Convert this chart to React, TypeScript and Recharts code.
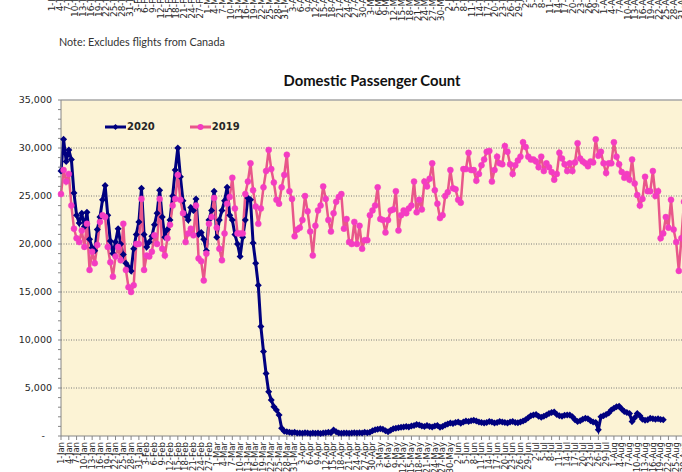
import { LineChart, Line, XAxis, YAxis, CartesianGrid, ReferenceLine, Legend } from 'recharts';

// axis categories: daily dates from 1-Jan (2020 calendar)
const monthNames = ['Jan', 'Feb', 'Mar', 'Apr', 'May', 'Jun', 'Jul', 'Aug'];
const monthLengths = [31, 29, 31, 30, 31, 30, 31, 31];
const dayLabels: string[] = [];
monthNames.forEach((m, i) => {
  for (let d = 1; d <= monthLengths[i]; d++) dayLabels.push(`${d}-${m}`);
});
const categories = dayLabels.slice(0, 241);

const yTicks = Array.from({ length: 36 }, (_, i) => i * 1000);
const gridValues = [5000, 10000, 15000, 20000, 25000, 30000];

// daily domestic passengers, 2020 (stops mid-August)
const pax2020 = [
  27600, 30900, 28600, 29800, 28800, 25300, 23000, 22200, 23200, 21800,
  23300, 20500, 19600, 19300, 21500, 22800, 24600, 26100, 23000, 20300,
  19000, 20200, 21600, 20000, 18900, 18000, 17600, 17200, 19500, 21000,
  22300, 25800, 21000, 19700, 20200, 20800, 22000, 23200, 25600, 22800,
  20700, 21500, 22500, 25000, 27700, 30000, 27000, 24500, 23000, 22500,
  23800, 23500, 24700, 21000, 21200, 20500, 19300, 22500, 23500, 25500,
  20700, 22500, 23500, 24500, 25900, 23000, 22500, 21000, 20000, 18700,
  20700, 22500, 24800, 24600, 20100, 18000, 15700, 11400, 8800, 6500,
  4600, 3750, 3050, 2700, 2200, 800, 500, 450, 400, 350,
  380, 300, 320, 280, 350, 300, 250, 300, 280, 320,
  250, 300, 350, 400, 350, 620, 450, 300, 280, 300,
  320, 280, 300, 330, 300, 350, 320, 380, 350, 400,
  550, 650, 700, 750, 700, 550, 450, 600, 750, 800,
  850, 900, 950, 1000, 950, 1050, 1100, 1200, 1150, 1050,
  1000, 1100, 1000, 950, 1050, 1100, 900, 1000, 1150, 1250,
  1350, 1300, 1400, 1450, 1320, 1450, 1550, 1500, 1600, 1650,
  1550, 1450, 1400, 1350, 1400, 1500, 1450, 1350, 1400, 1500,
  1450, 1400, 1350, 1450, 1500, 1400, 1380, 1450, 1550, 1700,
  1900, 2100, 2200, 2250, 2050, 1950, 2050, 2200, 2350, 2450,
  2500, 2250, 2100, 2050, 2150, 2200, 2200, 2000, 1700, 1500,
  1600, 1750, 1850, 1800, 1600, 1450, 1400, 650, 2000, 2100,
  2250, 2400, 2700, 2900, 3050, 3100, 2800, 2550, 2450, 2350,
  1500, 1900, 2350, 2100, 1750, 1650, 1700, 1850, 1800, 1750,
  1800, 1720, 1700,
];

// daily domestic passengers, 2019 (same day of year)
const pax2019 = [
  25200, 27700, 26500, 27300, 24000, 21600, 20600, 20200, 21400, 19700,
  22100, 17300, 19200, 18000, 19900, 22300, 23000, 22800, 19700, 18100,
  16600, 18700, 19700, 18300, 22100, 17300, 15500, 15000, 15700, 20000,
  20000, 24700, 17300, 18800, 18700, 19200, 20900, 20000, 24700, 19500,
  18800, 20600, 22000, 24000, 24700, 27200, 24600, 23200, 20200, 21100,
  21600, 20900, 24000, 18500, 18200, 16200, 19000, 22100, 22800, 24800,
  21700, 19500, 18300, 21100, 24200, 24900, 26900, 23700, 21100, 21100,
  21100, 25200, 26500, 28400, 25600, 23900, 22100, 23700, 25900, 27600,
  29800, 27800, 26400, 24600, 24200, 25900, 27200, 29300, 25500, 24700,
  20800, 21500, 21700, 22500, 25000, 23400, 21300, 18800, 21900, 23500,
  24000, 26000, 24700, 22500, 21300, 23200, 24400, 24900, 25200, 21600,
  22600, 20200, 20000, 22300, 20000, 21900, 19500, 20400, 20400, 23000,
  23500, 24000, 25900, 22600, 22500, 21200, 22500, 23500, 23600, 25500,
  21400, 23000, 23500, 23200, 23700, 24000, 26500, 23300, 24600, 23600,
  26500, 26000, 26800, 28400, 25600, 24200, 22700, 23000, 25000, 25400,
  27700, 25800, 25700, 24600, 24300, 27800, 27800, 29500, 27700, 27700,
  26600, 27300, 28200, 28800, 29600, 29700, 26500, 27700, 29100, 28400,
  28300, 30200, 29600, 28300, 27300, 28200, 28700, 29100, 30600, 30100,
  29100, 28800, 28800, 28600, 28000, 29100, 27600, 28400, 28000, 27500,
  26700, 27300, 29500, 28900, 28300, 27600, 28400, 27600, 28500, 30500,
  28900, 28600, 28400, 28100, 28600, 28500, 30900, 29200, 29600, 28400,
  27400, 28400, 28400, 30600, 29100, 28300, 27500, 26900, 27300, 26700,
  28800, 26300, 25100, 24000, 24700, 27000, 25500, 25500, 27600, 25000,
  25500, 20600, 21100, 22800, 21700, 24600, 21500, 20200, 17200, 20600,
  24400,
];

const NAVY = '#00007F';
const PINK_LINE = '#E8578A';
const PINK_DOT = '#F43CC2';
const TEXT = '#262626';

const data = categories.map((date, i) => ({
  date,
  y2020: pax2020[i] ?? null,
  y2019: pax2019[i] ?? null,
}));
const stripData = dayLabels.map((date) => ({ date }));

const fmt = (v: number) => v.toLocaleString('en-US');

const YTick = ({ x, y, payload }: any) => {
  const v = payload.value as number;
  if (v % 5000 !== 0) return <g />;
  return (
    <text
      x={v === 0 ? x - 7 : x}
      y={y}
      dy="0.35em"
      textAnchor="end"
      fontFamily="DejaVu Sans, sans-serif"
      fontSize={9.5}
      fill={TEXT}
    >
      {v === 0 ? '-' : fmt(v)}
    </text>
  );
};

const makeXTick = (size: number) => ({ x, y, payload }: any) => (
  <text
    x={x}
    y={y}
    dy="0.33em"
    transform={`rotate(-90 ${x} ${y})`}
    textAnchor="end"
    fontFamily="DejaVu Sans, sans-serif"
    fontSize={size}
    fill={TEXT}
  >
    {payload.value}
  </text>
);
const XTick = makeXTick(8.5);
const StripTick = makeXTick(9);

const Diamond = (props: any) => {
  const { cx, cy, index } = props;
  if (cx == null || cy == null || props.value == null) return <g key={`n-${index}`} />;
  return (
    <path
      key={`d-${index}`}
      d={`M${cx},${cy - 3.5}L${cx + 3.5},${cy}L${cx},${cy + 3.5}L${cx - 3.5},${cy}Z`}
      fill={NAVY}
    />
  );
};

const LegendBox = () => (
  <div
    style={{
      display: 'flex',
      alignItems: 'center',
      fontFamily: 'DejaVu Sans, sans-serif',
      fontWeight: 'bold',
      fontSize: 10,
      color: TEXT,
    }}
  >
    <svg width={21} height={8}>
      <line x1={0} y1={4} x2={21} y2={4} stroke={NAVY} strokeWidth={3} />
      <path d="M10.5,1L13.5,4L10.5,7L7.5,4Z" fill={NAVY} />
    </svg>
    <span style={{ marginLeft: 1 }}>2020</span>
    <svg width={21} height={8} style={{ marginLeft: 35 }}>
      <line x1={0} y1={4} x2={21} y2={4} stroke={PINK_LINE} strokeWidth={3} />
      <circle cx={10.5} cy={4} r={3} fill={PINK_DOT} />
    </svg>
    <span style={{ marginLeft: 1 }}>2019</span>
  </div>
);

export default function App() {
  return (
    <div
      style={{
        position: 'absolute',
        left: 0,
        top: 0,
        width: 682,
        height: 472,
        overflow: 'hidden',
        background: '#fff',
      }}
    >
      {/* cut-off date labels of the chart above */}
      <div style={{ position: 'absolute', left: 0, top: 0, width: 682, height: 22, overflow: 'hidden' }}>
        <div style={{ position: 'absolute', left: 0, top: -28 }}>
          <LineChart width={692} height={60} data={stripData} margin={{ top: 0, right: 10, bottom: 0, left: 52 }}>
            <XAxis
              dataKey="date"
              interval={2}
              height={50}
              tick={<StripTick />}
              tickSize={4}
              axisLine={{ stroke: '#868686' }}
              tickLine={{ stroke: '#868686' }}
            />
            <YAxis hide domain={[0, 1]} />
            <Line dataKey="v" stroke="none" dot={false} isAnimationActive={false} />
          </LineChart>
        </div>
      </div>

      <div
        style={{
          position: 'absolute',
          left: 59,
          top: 35,
          fontFamily: 'Lato, sans-serif',
          fontSize: 10.8,
          color: '#333',
          whiteSpace: 'nowrap',
        }}
      >
        Note: Excludes flights from Canada
      </div>

      <div
        style={{
          position: 'absolute',
          left: 0,
          width: 744,
          top: 71,
          textAlign: 'center',
          fontFamily: 'Lato, sans-serif',
          fontWeight: 'bold',
          fontSize: 14.8,
          color: '#111',
          whiteSpace: 'nowrap',
        }}
      >
        Domestic Passenger Count
      </div>

      <div style={{ position: 'absolute', left: 0, top: 0 }}>
        <LineChart width={694} height={476} data={data} margin={{ top: 100, right: 10, bottom: 0, left: 6 }}>
          <CartesianGrid
            horizontal
            vertical={false}
            horizontalValues={gridValues}
            fill="#FCF3D5"
            fillOpacity={1}
            stroke="#7A7A7A"
            strokeDasharray="1 1.5"
          />
          <ReferenceLine y={35000} stroke="#A6A6A6" strokeWidth={1.5} />
          <XAxis
            dataKey="date"
            interval={2}
            height={40}
            tick={<XTick />}
            tickSize={4}
            axisLine={{ stroke: '#868686' }}
            tickLine={{ stroke: '#868686' }}
          />
          <YAxis
            domain={[0, 35000]}
            ticks={yTicks}
            interval={0}
            width={55}
            tick={<YTick />}
            tickSize={3}
            tickMargin={6}
            axisLine={{ stroke: '#868686' }}
            tickLine={{ stroke: '#868686' }}
          />
          <Legend
            layout="horizontal"
            verticalAlign="middle"
            content={<LegendBox />}
            wrapperStyle={{ top: 121, left: 105, width: 'auto' }}
          />
          <Line
            dataKey="y2020"
            name="2020"
            stroke={NAVY}
            strokeWidth={3}
            dot={Diamond}
            activeDot={false}
            isAnimationActive={false}
          />
          <Line
            dataKey="y2019"
            name="2019"
            stroke={PINK_LINE}
            strokeWidth={2.5}
            dot={{ r: 3, fill: PINK_DOT, stroke: PINK_DOT, strokeWidth: 0.5 }}
            activeDot={false}
            isAnimationActive={false}
          />
        </LineChart>
      </div>
    </div>
  );
}
